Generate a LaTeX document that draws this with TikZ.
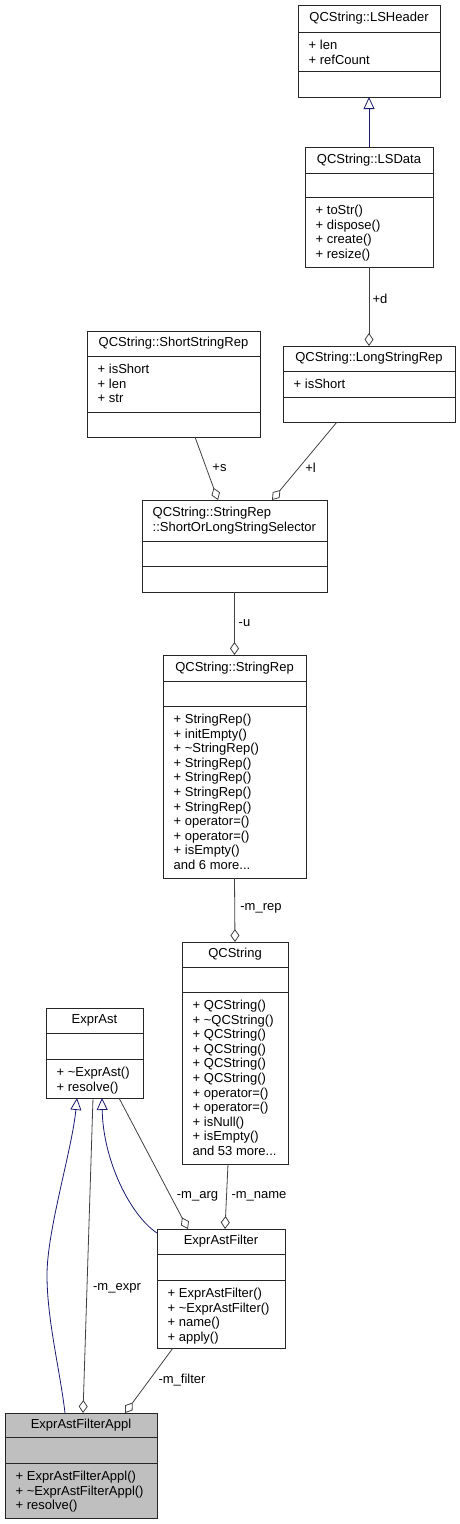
\documentclass[tikz,border=0pt]{standalone}
\usepackage{fontspec}
\setmainfont{Liberation Sans}
\usetikzlibrary{arrows.meta}
\definecolor{edgegray}{HTML}{404040}
\definecolor{inhblue}{HTML}{191970}
\definecolor{applgray}{HTML}{BFBFBF}
\begin{document}
\begin{tikzpicture}[x=1pt,y=1pt,
  cls/.style={draw=black!85, line width=0.9pt, fill=white, inner sep=0pt, outer sep=0pt},
  sepline/.style={draw=black!85, line width=0.9pt},
  txt/.style={font=\fontsize{13}{14.6}\selectfont, inner sep=0pt},
  mem/.style={txt, align=left, anchor=north west},
  lbl/.style={txt},
  comp/.style={draw=edgegray, line width=0.8pt, -{Diamond[open,length=13pt,width=9pt,fill=white]}},
  inh/.style={draw=inhblue, line width=0.8pt, -{Triangle[open,length=12pt,width=11pt,fill=white]}},
]
\useasboundingbox (0,0) rectangle (460,-1524);

% QCString::LSHeader
\node[cls, minimum width=142pt, minimum height=92pt] (lsh) at (369,-51) {};
\draw[sepline] ([yshift=-27pt]lsh.north west) -- ([yshift=-27pt]lsh.north east);
\draw[sepline] ([yshift=-66pt]lsh.north west) -- ([yshift=-66pt]lsh.north east);
\node[txt] (lsht) at ([yshift=-13.5pt]lsh.north) {QCString::LSHeader};
\node[mem] (lshm) at ([xshift=10.5pt,yshift=-34pt]lsh.north west) {\strut+ len\\+ refCount};

% QCString::LSData
\node[cls, minimum width=128pt, minimum height=120pt] (lsd) at (369,-207) {};
\draw[sepline] ([yshift=-26pt]lsd.north west) -- ([yshift=-26pt]lsd.north east);
\draw[sepline] ([yshift=-50pt]lsd.north west) -- ([yshift=-50pt]lsd.north east);
\node[txt] (lsdt) at ([yshift=-13pt]lsd.north) {QCString::LSData};
\node[mem] (lsdm) at ([xshift=10.5pt,yshift=-57pt]lsd.north west) {\strut+ toStr()\\+ dispose()\\+ create()\\+ resize()};

% QCString::ShortStringRep
\node[cls, minimum width=173pt, minimum height=106pt] (ssr) at (173.5,-384) {};
\draw[sepline] ([yshift=-25pt]ssr.north west) -- ([yshift=-25pt]ssr.north east);
\draw[sepline] ([yshift=-81pt]ssr.north west) -- ([yshift=-81pt]ssr.north east);
\node[txt] (ssrt) at ([yshift=-12.5pt]ssr.north) {QCString::ShortStringRep};
\node[mem] (ssrm) at ([xshift=10.5pt,yshift=-32pt]ssr.north west) {\strut+ isShort\\+ len\\+ str};

% QCString::LongStringRep
\node[cls, minimum width=172pt, minimum height=76pt] (lsr) at (369,-384) {};
\draw[sepline] ([yshift=-25pt]lsr.north west) -- ([yshift=-25pt]lsr.north east);
\draw[sepline] ([yshift=-51pt]lsr.north west) -- ([yshift=-51pt]lsr.north east);
\node[txt] (lsrt) at ([yshift=-12.5pt]lsr.north) {QCString::LongStringRep};
\node[mem] (lsrm) at ([xshift=10.5pt,yshift=-32pt]lsr.north west) {\strut+ isShort};

% QCString::StringRep::ShortOrLongStringSelector
\node[cls, minimum width=185pt, minimum height=92pt] (sel) at (234.5,-546) {};
\draw[sepline] ([yshift=-41pt]sel.north west) -- ([yshift=-41pt]sel.north east);
\draw[sepline] ([yshift=-66pt]sel.north west) -- ([yshift=-66pt]sel.north east);
\node[mem] (selt) at ([xshift=10.5pt,yshift=-6.5pt]sel.north west) {\strut QCString::StringRep\\::ShortOrLongStringSelector};

% QCString::StringRep
\node[cls, minimum width=143pt, minimum height=223pt] (srep) at (234.5,-766.5) {};
\draw[sepline] ([yshift=-26pt]srep.north west) -- ([yshift=-26pt]srep.north east);
\draw[sepline] ([yshift=-51pt]srep.north west) -- ([yshift=-51pt]srep.north east);
\node[txt] (srept) at ([yshift=-13pt]srep.north) {QCString::StringRep};
\node[mem] (srepm) at ([xshift=10.5pt,yshift=-58pt]srep.north west) {\strut+ StringRep()\\+ initEmpty()\\+ \textasciitilde StringRep()\\+ StringRep()\\+ StringRep()\\+ StringRep()\\+ StringRep()\\+ operator=()\\+ operator=()\\+ isEmpty()\\and 6 more...};

% QCString
\node[cls, minimum width=106pt, minimum height=222pt] (qcs) at (235,-1053) {};
\draw[sepline] ([yshift=-25pt]qcs.north west) -- ([yshift=-25pt]qcs.north east);
\draw[sepline] ([yshift=-50pt]qcs.north west) -- ([yshift=-50pt]qcs.north east);
\node[txt] (qcst) at ([yshift=-12.5pt]qcs.north) {QCString};
\node[mem] (qcsm) at ([xshift=10.5pt,yshift=-57pt]qcs.north west) {\strut+ QCString()\\+ \textasciitilde QCString()\\+ QCString()\\+ QCString()\\+ QCString()\\+ QCString()\\+ operator=()\\+ operator=()\\+ isNull()\\+ isEmpty()\\and 53 more...};

% ExprAst
\node[cls, minimum width=97pt, minimum height=90pt] (ea) at (94.5,-1053) {};
\draw[sepline] ([yshift=-25pt]ea.north west) -- ([yshift=-25pt]ea.north east);
\draw[sepline] ([yshift=-51pt]ea.north west) -- ([yshift=-51pt]ea.north east);
\node[txt] (eat) at ([yshift=-12.5pt]ea.north) {ExprAst};
\node[mem] (eam) at ([xshift=10.5pt,yshift=-58pt]ea.north west) {\strut+ \textasciitilde ExprAst()\\+ resolve()};

% ExprAstFilter
\node[cls, minimum width=128pt, minimum height=119pt] (eaf) at (221,-1288.5) {};
\draw[sepline] ([yshift=-25pt]eaf.north west) -- ([yshift=-25pt]eaf.north east);
\draw[sepline] ([yshift=-51pt]eaf.north west) -- ([yshift=-51pt]eaf.north east);
\node[txt] (eaft) at ([yshift=-12.5pt]eaf.north) {ExprAstFilter};
\node[mem] (eafm) at ([xshift=10.5pt,yshift=-58pt]eaf.north west) {\strut+ ExprAstFilter()\\+ \textasciitilde ExprAstFilter()\\+ name()\\+ apply()};

% ExprAstFilterAppl
\node[cls, fill=applgray, minimum width=152pt, minimum height=105pt] (appl) at (81,-1465.5) {};
\draw[sepline] ([yshift=-24pt]appl.north west) -- ([yshift=-24pt]appl.north east);
\draw[sepline] ([yshift=-50pt]appl.north west) -- ([yshift=-50pt]appl.north east);
\node[txt] (applt) at ([yshift=-12pt]appl.north) {ExprAstFilterAppl};
\node[mem] (applm) at ([xshift=10.5pt,yshift=-57pt]appl.north west) {\strut+ ExprAstFilterAppl()\\+ \textasciitilde ExprAstFilterAppl()\\+ resolve()};

% connectors
\draw[inh] (lsd.north) -- (lsh.south);
\draw[comp] (lsd.south) -- (lsr.north);
\draw[comp] ([xshift=21.5pt]ssr.south) -- ([xshift=-16.5pt]sel.north);
\draw[comp] ([xshift=-32pt]lsr.south) -- ([xshift=37.5pt]sel.north);
\draw[comp] (sel.south) -- (srep.north);
\draw[comp] (srep.south) -- (qcs.north);
\draw[comp] ([xshift=-7pt]qcs.south) -- ([xshift=4pt]eaf.north);
\draw[comp] ([xshift=24.5pt]ea.south) -- ([xshift=-33pt]eaf.north);
\draw[inh] ([yshift=-4pt]eaf.north west) .. controls +(-27,18) and +(1,-62) .. ([xshift=7.5pt]ea.south);
\draw[comp] ([xshift=-1.5pt]ea.south) -- ([xshift=2pt]appl.north);
\draw[inh] ([xshift=-16pt]appl.north) .. controls +(-5,43) and +(0,-45) .. (47,-1275) .. controls +(0,45) and +(-5,-52) .. ([xshift=-17.5pt]ea.south);
\draw[comp] ([xshift=-48pt]eaf.south) -- ([xshift=44pt]appl.north);

% labels
\node[lbl] (ld) at (380,-299) {+d};
\node[lbl] (ls) at (219.5,-468) {+s};
\node[lbl] (ll) at (310.5,-468) {+l};
\node[lbl] (lu) at (244.5,-623) {-u};
\node[lbl] (lrep) at (261,-908) {-m\_rep};
\node[lbl] (larg) at (197.5,-1196) {-m\_arg};
\node[lbl] (lname) at (259,-1196) {-m\_name};
\node[lbl] (lexpr) at (117,-1288) {-m\_expr};
\node[lbl] (lfilter) at (182,-1380) {-m\_filter};
\end{tikzpicture}
\end{document}
